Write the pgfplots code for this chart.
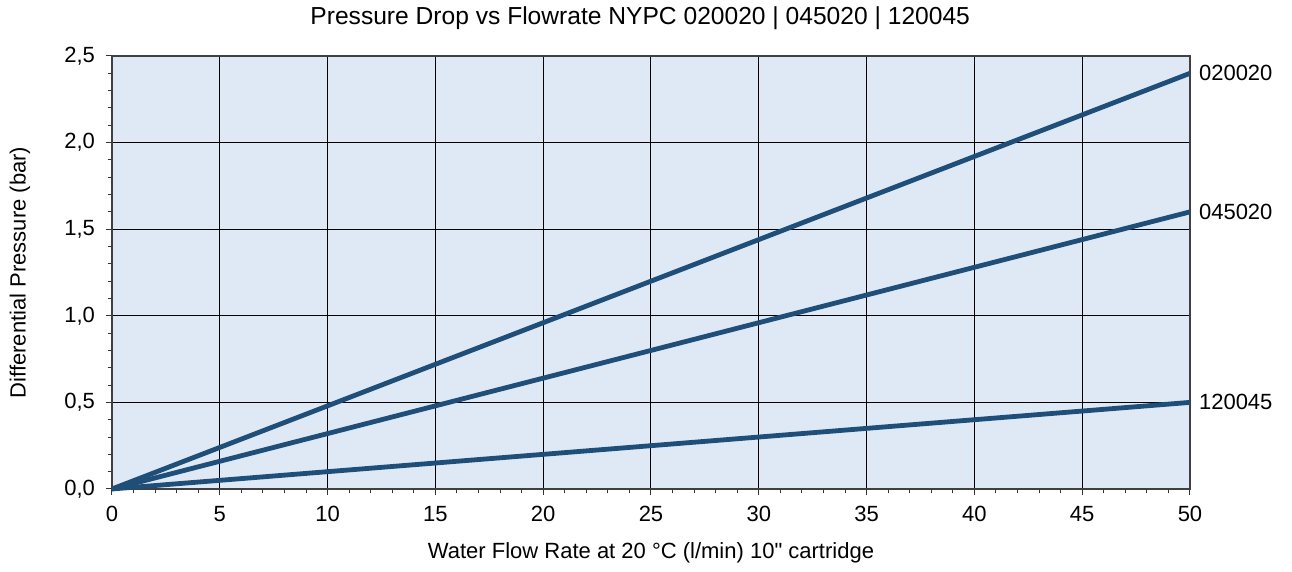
\documentclass[border=0pt]{standalone}
\usepackage{pgfplots}
\pgfplotsset{compat=1.18}
\usepackage{fontspec}
\setmainfont{Liberation Sans}
\newfontfamily\nomap{Liberation Sans}
\definecolor{bgblue}{RGB}{222,233,245}
\definecolor{lineblue}{RGB}{31,78,121}
\begin{document}
\begin{tikzpicture}
\path[use as bounding box] (-56pt,-41.5pt) rectangle (590pt,244.5pt);
\begin{axis}[
  scale only axis,
  width=539pt, height=216.5pt,
  at={(0,0)}, anchor=south west,
  xmin=0, xmax=50, ymin=0, ymax=2.5,
  xtick={0,5,...,50}, ytick={0,0.5,...,2.5},
  minor x tick num=4, minor y tick num=4,
  tick align=outside,
  major tick length=3pt, minor tick length=2.2pt,
  xtick pos=bottom, ytick pos=left,
  axis background/.style={fill=bgblue},
  grid=major,
  major grid style={black, line width=0.5pt},
  axis line style={black!75, line width=0.6pt},
  every tick/.style={black!80, line width=0.5pt},
  font=\fontsize{11}{13}\selectfont,
  /pgf/number format/assume math mode=true,
  /pgf/number format/use comma,
  yticklabel style={/pgf/number format/fixed, /pgf/number format/fixed zerofill, /pgf/number format/precision=1, xshift=-2pt},
  xticklabel style={yshift=-2pt},
  clip=false,
]
\addplot[lineblue, line width=2.4pt] coordinates {(0,0) (50,2.4)};
\addplot[lineblue, line width=2.4pt] coordinates {(0,0) (50,1.6)};
\addplot[lineblue, line width=2.4pt] coordinates {(0,0) (50,0.5)};
\node[anchor=west, xshift=1pt] at (axis cs:50,2.4) {020020};
\node[anchor=west, xshift=1pt] at (axis cs:50,1.6) {045020};
\node[anchor=west, xshift=1pt] at (axis cs:50,0.5) {120045};
\node[anchor=center, yshift=19pt, font=\fontsize{12.3}{14}\selectfont] at (rel axis cs:0.49,1) {Pressure Drop vs Flowrate NYPC 020020 | 045020 | 120045};
\node[anchor=center, yshift=-32pt] at (rel axis cs:0.5,0) {Water Flow Rate at 20 °C (l/min) 10{\nomap "} cartridge};
\node[anchor=center, rotate=90] at ([xshift=-46pt]rel axis cs:0,0.5) {Differential Pressure (bar)};
\end{axis}
\end{tikzpicture}
\end{document}
